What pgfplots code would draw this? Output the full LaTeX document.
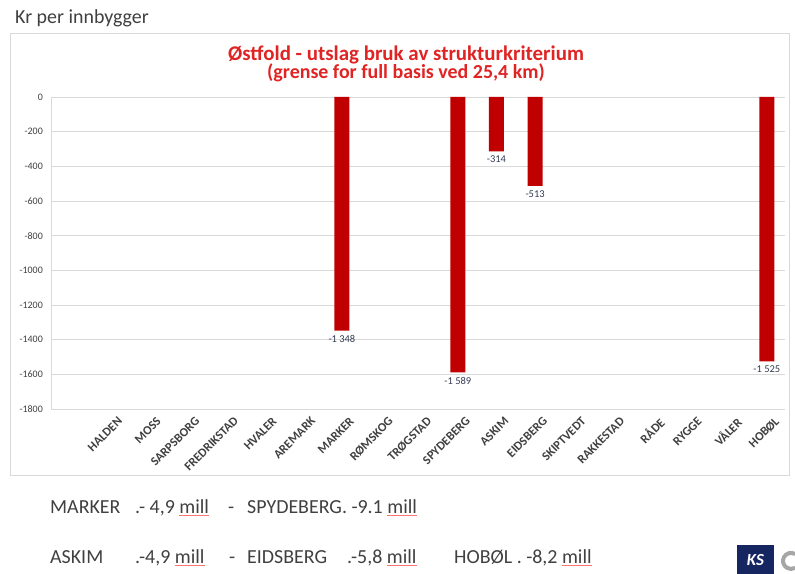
\documentclass[border=0pt]{standalone}
\usepackage{pgfplots}
\pgfplotsset{compat=1.18}
\usepackage{fontspec}
\setmainfont{Carlito}
\definecolor{barred}{RGB}{192,0,0}
\definecolor{titlered}{RGB}{224,36,36}
\definecolor{txt}{RGB}{64,64,64}
\definecolor{lbl}{RGB}{50,60,80}
\definecolor{gridc}{RGB}{217,217,217}
\definecolor{ksblue}{RGB}{22,38,96}
\newcommand{\mill}{\textcolor{red!55}{\underline{\textcolor{txt}{mill}}}}

\begin{document}
\begin{tikzpicture}[x=1bp,y=1bp]
\useasboundingbox (0,0) rectangle (795,574);
\fill[white] (0,0) rectangle (795,574);
% chart frame
\draw[gridc, line width=0.8bp] (10,99) rectangle (789,541);
\node[anchor=west, inner sep=0pt, text=txt, font=\fontsize{20}{24}\selectfont] at (15,556) {Kr per innbygger};
\node[text=titlered, font=\bfseries\fontsize{21}{25}\selectfont] at (406,519) {Østfold - utslag bruk av strukturkriterium};
\node[text=titlered, font=\bfseries\fontsize{20}{24}\selectfont] at (406,501) {(grense for full basis ved 25,4 km)};

\begin{axis}[
    at={(51bp,165bp)}, anchor=south west,
    scale only axis, width=734bp, height=312bp,
    ymin=-1800, ymax=0, xmin=-1.53, xmax=17.47,
    ytick={-1800,-1600,...,0},
    ymajorgrids, grid style={gridc, line width=0.8bp},
    axis line style={gridc, line width=0.8bp},
    axis x line*=bottom, axis y line*=left,
    major tick length=0pt,
    /pgf/number format/.cd, 1000 sep={}, assume math mode=true,
    /pgfplots/.cd,
    yticklabel style={font=\fontsize{10}{12}\selectfont, text=txt, inner sep=0pt, xshift=-8bp},
    xtick={0,...,17},
    xticklabels={HALDEN,MOSS,SARPSBORG,FREDRIKSTAD,HVALER,AREMARK,MARKER,RØMSKOG,TRØGSTAD,SPYDEBERG,ASKIM,EIDSBERG,SKIPTVEDT,RAKKESTAD,RÅDE,RYGGE,VÅLER,HOBØL},
    xticklabel style={rotate=45, anchor=north east, inner sep=0pt, yshift=-10bp,
        font=\bfseries\fontsize{12.5}{14}\selectfont, text=txt},
  ]
  \addplot[ybar, bar width=15bp, fill=barred, draw=none,
      point meta=explicit symbolic, nodes near coords,
      every node near coord/.append style={anchor=north, yshift=-1bp, text=lbl,
        font=\fontsize{10.5}{12}\selectfont}]
    coordinates {(6,-1348) [-1 348] (9,-1589) [-1 589] (10,-314) [-314]
                 (11,-513) [-513] (17,-1525) [-1 525]};
\end{axis}

% notes below the chart
\begin{scope}[every node/.style={anchor=base west, inner sep=0pt, text=txt, font=\fontsize{20}{24}\selectfont}]
\node at (50,60) {MARKER};
\node at (135,60) {.- 4,9 \mill};
\node at (228,60) {-};
\node at (247,60) {SPYDEBERG. -9.1 \mill};
\node at (50,10) {ASKIM};
\node at (135,10) {.-4,9 \mill};
\node at (229,10) {-};
\node at (247,10) {EIDSBERG};
\node at (347,10) {.-5,8 \mill};
\node at (454,10) {HOBØL . -8,2 \mill};
\end{scope}

% KS logo (cut at the edge)
\fill[ksblue] (737,0) rectangle (774,29);
\node[text=white, font=\bfseries\itshape\fontsize{17}{20}\selectfont] at (755.5,14) {KS};
\draw[gray!70, line width=4bp] (795,20) arc (60:300:8);
\end{tikzpicture}
\end{document}
